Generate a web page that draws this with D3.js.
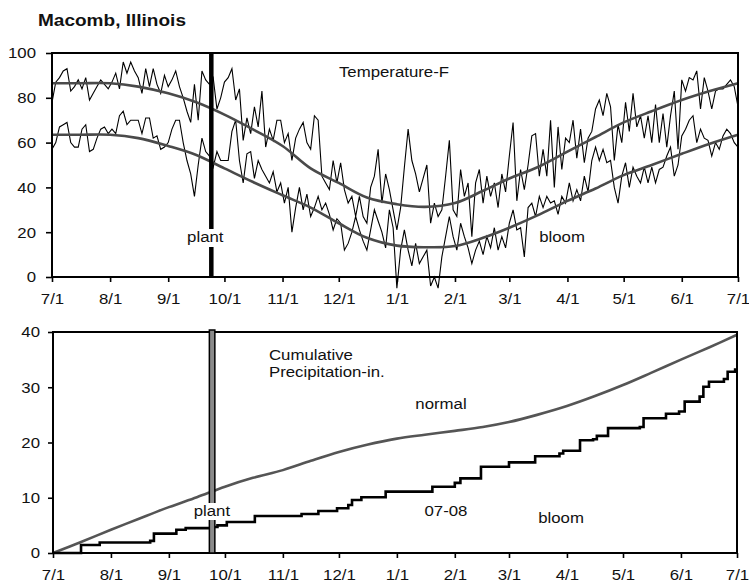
<!DOCTYPE html>
<html><head><meta charset="utf-8">
<script src="https://cdn.jsdelivr.net/npm/d3@7"></script>
<style>
html,body{margin:0;padding:0;background:#fff;}
text{font-family:Arial,"Liberation Sans",sans-serif;fill:#111;}
</style></head>
<body><svg id="c" width="749" height="581"></svg>
<script>
// ---------------- DATA ----------------
const title = "Macomb, Illinois";
const startDate = "07/01/2007", endDate = "07/01/2008";
const stepDays = 2; // daily temperatures sampled every 2 days from 7/1/2007
const tempMax = [78,87,89,92,93,83,85,88,84,89, 79,82,85,88,86,84,87,91,84,96,
 91,96,92,89,82,93,85,93,86,82, 90,85,88,92,85,80,74,69,86,70,
 92,88,86,89,75,80,87,89,93,79, 84,61,71,64,76,67,83,58,66,61,
 70,70,60,64,52,62,66,69,60,57, 72,70,45,42,39,52,42,51,39,33,
 36,27,36,27,24,40,45,57,33,46, 39,30,21,31,49,66,52,46,38,44,
 50,24,33,27,30,45,61,30,27,48, 36,42,18,42,48,33,45,36,42,31,
 46,38,54,69,34,48,39,50,63,64, 45,57,45,70,40,67,48,62,60,70,
 53,66,51,62,65,75,79,72,82,76, 52,68,60,78,65,82,67,72,62,72,
 60,77,60,73,58,72,83,57,88,83, 89,88,92,75,89,83,75,83,84,84,
 86,88,85,76];
const tempMin = [57,60,67,68,69,60,58,58,66,68, 56,57,62,66,67,64,66,64,72,74,
 68,70,70,70,64,71,71,62,63,57, 58,60,66,70,70,60,52,46,36,50,
 62,56,54,49,56,52,52,52,65,70, 52,42,55,56,44,52,48,45,42,47,
 38,42,33,40,20,31,40,30,37,27, 31,36,30,33,28,21,26,24,12,15,
 20,27,21,16,12,21,30,25,20,13, 30,22,-5,12,21,12,5,15,6,9,
 12,-4,0,-5,9,18,27,18,12,24, 18,13,6,12,16,10,18,13,22,12,
 18,13,24,30,21,22,9,31,33,27, 36,31,36,33,34,28,36,33,42,34,
 39,34,45,38,52,58,52,57,51,52, 40,33,45,51,40,49,45,42,49,42,
 49,42,48,49,54,58,45,50,63,66, 70,72,60,66,62,61,54,60,57,63,
 66,64,60,58];
const normDates = ["07/01/2007","07/16/2007","08/01/2007","08/16/2007","09/01/2007","09/16/2007",
 "10/01/2007","10/16/2007","11/01/2007","11/16/2007","12/01/2007","12/16/2007",
 "01/01/2008","01/16/2008","02/01/2008","02/16/2008","03/01/2008","03/16/2008",
 "04/01/2008","04/16/2008","05/01/2008","05/16/2008","06/01/2008","06/16/2008","07/01/2008"];
const normHigh = [86.5,86.5,86.5,85,82,78,72.5,66,58.5,48.5,42,35.5,32.5,31.3,33,38.5,44,49,56,62.5,69,74,79,83,86.5];
const normLow  = [63.5,63.5,63.5,62,58.5,54.5,48.5,42.5,36.5,31,24,17.5,14,13.3,13.8,17.5,22,27.5,34,39.5,45.5,50,55,59.5,63.5];
const normPrecip = [0,2.0,4.2,6.2,8.3,10.1,12.0,13.6,15.0,16.7,18.3,19.6,20.7,21.4,22.1,22.8,23.7,25.0,26.6,28.4,30.4,32.6,35.0,37.2,39.5];
const rainDates = ["07/01/2007","07/16/2007","07/26/2007","08/22/2007","08/24/2007","09/05/2007","09/10/2007",
 "09/25/2007","09/27/2007","10/02/2007","10/17/2007","11/11/2007","11/20/2007","11/30/2007","12/06/2007",
 "12/08/2007","12/13/2007","12/26/2007","01/20/2008","02/01/2008","02/04/2008","02/15/2008","03/01/2008",
 "03/15/2008","03/28/2008","03/30/2008","04/08/2008","04/15/2008","04/17/2008","04/23/2008","05/10/2008",
 "05/12/2008","05/24/2008","05/31/2008","06/03/2008","06/11/2008","06/13/2008","06/16/2008","06/24/2008",
 "06/26/2008","06/30/2008","07/01/2008"];
const rainCum = [0,1.45,1.9,2.2,3.5,4.2,4.5,4.7,5.0,5.6,6.7,7.05,7.6,8.1,8.7,9.6,10.1,11.1,12.0,12.7,13.5,15.6,16.4,
 17.5,18.0,18.5,20.4,20.6,21.2,22.6,22.8,24.4,25.2,25.6,27.4,28.3,30.1,31.0,31.5,32.8,33.2,33.2];
const monthTicks = ["07/01/2007","08/01/2007","09/01/2007","10/01/2007","11/01/2007","12/01/2007","01/01/2008",
 "02/01/2008","03/01/2008","04/01/2008","05/01/2008","06/01/2008","07/01/2008"];
const tempTicks = [0,20,40,60,80,100];
const precipTicks = [0,10,20,30,40];
const plantDate = "09/24/2007";

// ---------------- DRAW ----------------
const SX = 1.12, FS = 15;
const parse = d3.timeParse("%m/%d/%Y");
const fmt = d3.timeFormat("%-m/%-d");
const t0 = parse(startDate), t1 = parse(endDate);
const svg = d3.select("#c");

function txt(g, x, y, s, anchor){
  return g.append("text").attr("transform",`translate(${x},${y}) scale(${SX},1)`)
    .attr("text-anchor",anchor||"start").attr("font-size",FS).text(s);
}
function styleAxis(g){
  g.select(".domain").remove();
  g.selectAll(".tick line").attr("stroke","#000").attr("stroke-width",1.6);
  g.selectAll(".tick text").attr("font-size",FS).attr("fill","#111")
    .attr("font-family","Arial, 'Liberation Sans', sans-serif")
    .attr("transform",`scale(${SX},1)`)
    .attr("x", function(){ return (+d3.select(this).attr("x")||0)/SX; });
}

svg.append("text").attr("transform",`translate(38,26) scale(${SX},1)`)
  .attr("font-size",17).attr("font-weight","bold").text(title);

// ---- Temperature panel ----
const xT = d3.scaleTime().domain([t0,t1]).range([52,738]);
const yT = d3.scaleLinear().domain([0,100]).range([277,53]);
const gT = svg.append("g");
const tDates = tempMax.map((_,i)=>d3.timeDay.offset(t0,i*stepDays));
const nDates = normDates.map(parse);
const lineDaily = d3.line().x((d,i)=>xT(tDates[i])).y(d=>yT(d));
gT.append("path").attr("d",lineDaily(tempMax)).attr("fill","none").attr("stroke","#000").attr("stroke-width",1.1);
gT.append("path").attr("d",lineDaily(tempMin)).attr("fill","none").attr("stroke","#000").attr("stroke-width",1.1);
const lineNorm = d3.line().curve(d3.curveCatmullRom.alpha(0.5)).x((d,i)=>xT(nDates[i])).y(d=>yT(d));
[normHigh,normLow].forEach(a=>gT.append("path").attr("d",lineNorm(a)).attr("fill","none")
  .attr("stroke","#4a4a4a").attr("stroke-width",2.6));
gT.append("rect").attr("x",52).attr("y",53).attr("width",686).attr("height",224)
  .attr("fill","none").attr("stroke","#000").attr("stroke-width",2);
const xp = xT(parse(plantDate));
gT.append("line").attr("x1",xp).attr("x2",xp).attr("y1",yT(100)).attr("y2",yT(0)).attr("stroke","#000").attr("stroke-width",4.5);
gT.append("rect").attr("x",xp-26).attr("y",229).attr("width",40).attr("height",18).attr("fill","#fff");
txt(gT, xp-6, 242, "plant", "middle");
txt(gT, 562, 242, "bloom", "middle");
txt(gT, 394, 77, "Temperature-F", "middle");
const axTx = gT.append("g").attr("transform","translate(0,277)")
  .call(d3.axisBottom(xT).tickValues(monthTicks.map(parse)).tickFormat(fmt).tickSizeInner(5).tickSizeOuter(0).tickPadding(11));
styleAxis(axTx);
const axTy = gT.append("g").attr("transform","translate(52,0)")
  .call(d3.axisLeft(yT).tickValues(tempTicks).tickSizeInner(6).tickSizeOuter(0).tickPadding(10));
styleAxis(axTy);

// ---- Precipitation panel ----
const xP = d3.scaleTime().domain([t0,t1]).range([53,737]);
const yP = d3.scaleLinear().domain([0,40]).range([553,332]);
const gP = svg.append("g");
gP.append("path").attr("d", d3.line().curve(d3.curveCatmullRom.alpha(0.5)).x((d,i)=>xP(nDates[i])).y(d=>yP(d))(normPrecip))
  .attr("fill","none").attr("stroke","#555").attr("stroke-width",2.6);
const rDates = rainDates.map(parse);
gP.append("path").attr("d", d3.line().curve(d3.curveStepAfter).x((d,i)=>xP(rDates[i])).y(d=>yP(d))(rainCum))
  .attr("fill","none").attr("stroke","#000").attr("stroke-width",2.6);
gP.append("rect").attr("x",53).attr("y",332).attr("width",684).attr("height",221)
  .attr("fill","none").attr("stroke","#000").attr("stroke-width",2);
const xp2 = xP(parse(plantDate));
gP.append("rect").attr("x",xp2-2.5).attr("y",yP(40)-2).attr("width",5.5).attr("height",yP(0)-yP(40)+2)
  .attr("fill","#8a8a8a").attr("stroke","#000").attr("stroke-width",1.5);
gP.append("rect").attr("x",xp2-19).attr("y",503).attr("width",38).attr("height",17).attr("fill","#fff");
txt(gP, xp2, 516, "plant", "middle");
txt(gP, 269, 360, "Cumulative", "start");
txt(gP, 269, 377, "Precipitation-in.", "start");
txt(gP, 441, 409, "normal", "middle");
txt(gP, 446, 516, "07-08", "middle");
txt(gP, 561, 523, "bloom", "middle");
const axPx = gP.append("g").attr("transform","translate(0,553)")
  .call(d3.axisBottom(xP).tickValues(monthTicks.map(parse)).tickFormat(fmt).tickSizeInner(5).tickSizeOuter(0).tickPadding(11));
styleAxis(axPx);
const axPy = gP.append("g").attr("transform","translate(53,0)")
  .call(d3.axisLeft(yP).tickValues(precipTicks).tickSizeInner(5).tickSizeOuter(0).tickPadding(8));
styleAxis(axPy);
</script></body></html>
